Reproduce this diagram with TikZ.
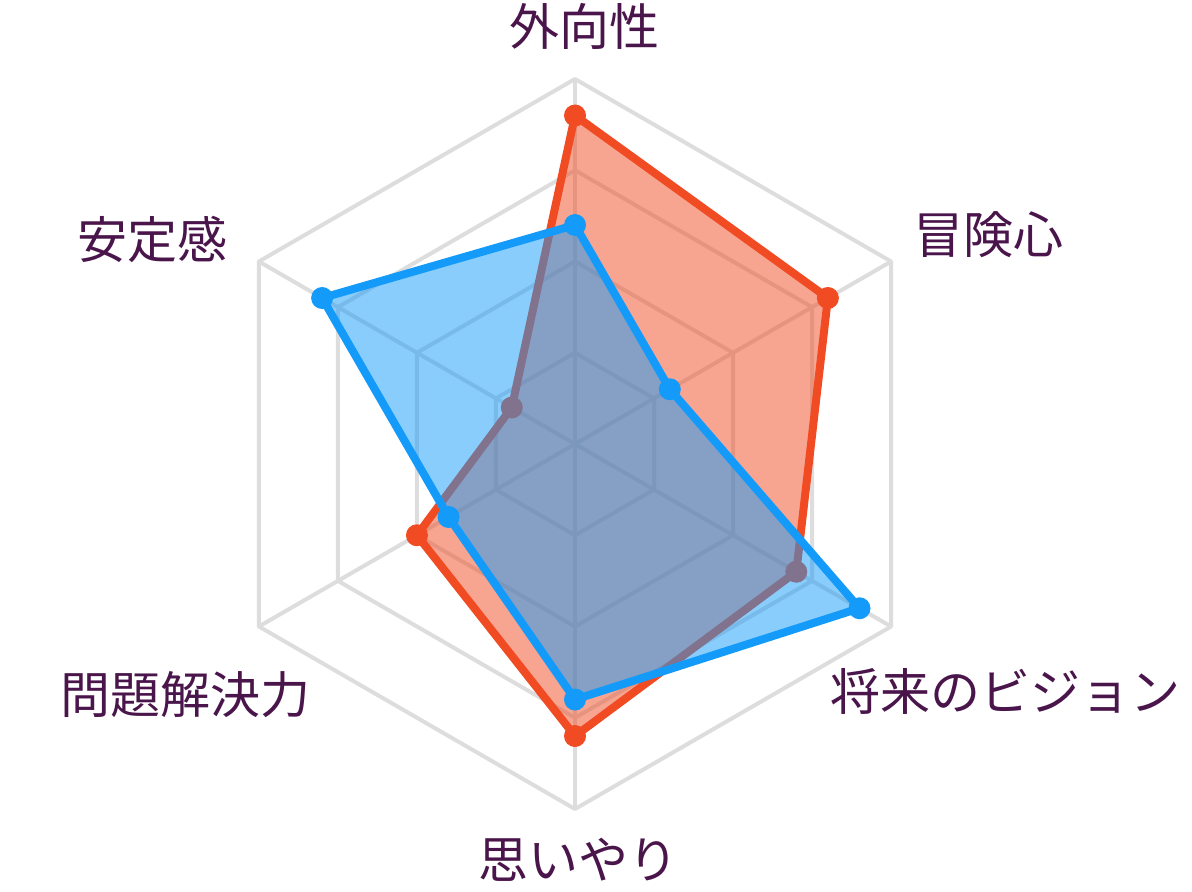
\documentclass[tikz,border=0pt]{standalone}
\usepackage{fontspec}
\newfontfamily\jpfont{Noto Sans CJK JP}
\usepackage{tikz}
\definecolor{gridgray}{RGB}{221,221,221}
\definecolor{seriesred}{RGB}{240,75,35}
\definecolor{seriesblue}{RGB}{20,155,250}
\definecolor{labelplum}{RGB}{74,21,75}

\begin{document}
\begin{tikzpicture}[x=0.5pt, y=0.5pt,
    gridline/.style={draw=gridgray, line width=2pt, line join=round},
    series/.style={line width=4pt, line join=round, fill opacity=0.5},
    axislabel/.style={text=labelplum, font=\jpfont\fontsize{25}{30}\selectfont, inner sep=0pt}]
    \useasboundingbox (0, 0) rectangle (1192, 891);
    \begin{scope}[shift={(575, 447)}]
        % grid
        \draw[gridline] (90:365) -- (30:365) -- (-30:365) -- (-90:365) -- (210:365) -- (150:365) -- cycle;
        \draw[gridline] (90:273.75) -- (30:273.75) -- (-30:273.75) -- (-90:273.75) -- (210:273.75) -- (150:273.75) -- cycle;
        \draw[gridline] (90:182.5) -- (30:182.5) -- (-30:182.5) -- (-90:182.5) -- (210:182.5) -- (150:182.5) -- cycle;
        \draw[gridline] (90:91.25) -- (30:91.25) -- (-30:91.25) -- (-90:91.25) -- (210:91.25) -- (150:91.25) -- cycle;
        \draw[gridline] (90:365) -- (-90:365);
        \draw[gridline] (30:365) -- (210:365);
        \draw[gridline] (-30:365) -- (150:365);
        % red series
        \filldraw[series, draw=seriesred, fill=seriesred] (90:328.5) -- (30:292) -- (-30:255.5) -- (-90:292) -- (210:182.5) -- (150:73) -- cycle;
        \fill[seriesred] (90:328.5) circle[radius=11] (30:292) circle[radius=11] (-30:255.5) circle[radius=11]
            (-90:292) circle[radius=11] (210:182.5) circle[radius=11] (150:73) circle[radius=11];
        % blue series
        \filldraw[series, draw=seriesblue, fill=seriesblue] (90:219) -- (30:109.5) -- (-30:328.5) -- (-90:255.5) -- (210:146) -- (150:292) -- cycle;
        \fill[seriesblue] (90:219) circle[radius=11] (30:109.5) circle[radius=11] (-30:328.5) circle[radius=11]
            (-90:255.5) circle[radius=11] (210:146) circle[radius=11] (150:292) circle[radius=11];
    \end{scope}
    \node[axislabel] (gaikou) at (584, 865) {外向性};
    \node[axislabel] (bouken) at (988, 656) {冒険心};
    \node[axislabel] (shourai) at (1005, 200) {将来のビジョン};
    \node[axislabel] (omoiyari) at (578, 31) {思いやり};
    \node[axislabel] (mondai) at (185, 196) {問題解決力};
    \node[axislabel] (antei) at (152, 652) {安定感};
\end{tikzpicture}
\end{document}
